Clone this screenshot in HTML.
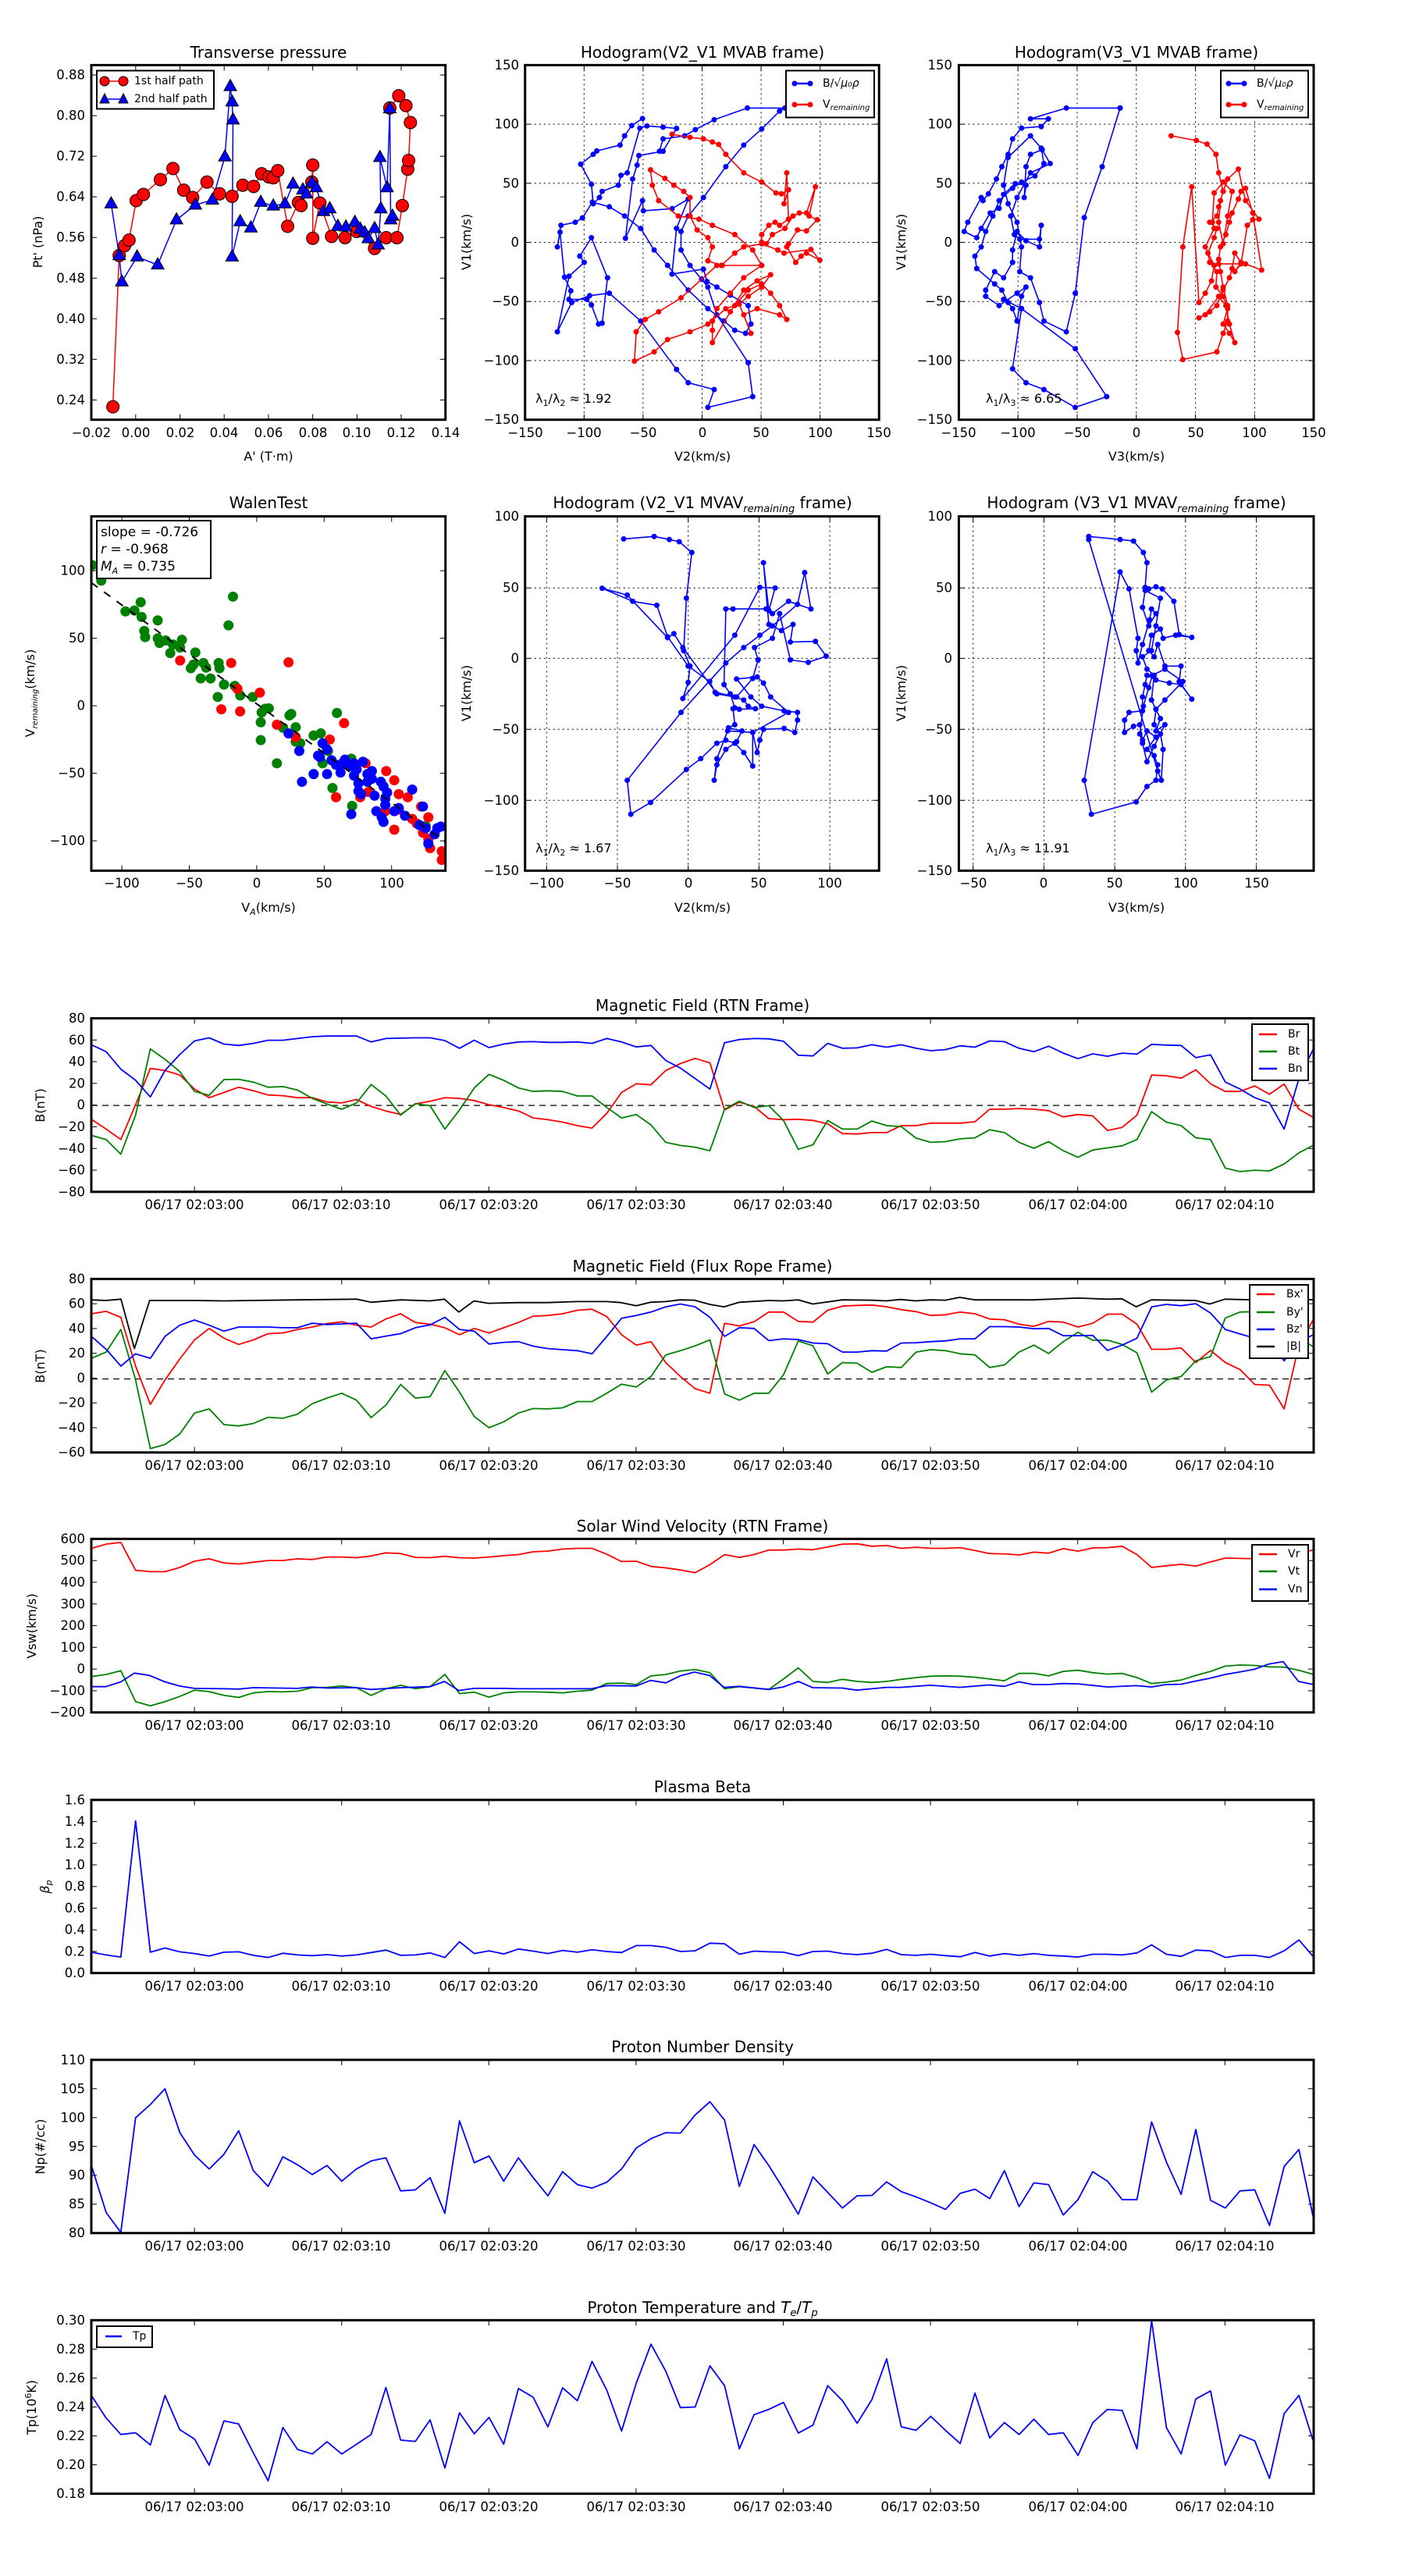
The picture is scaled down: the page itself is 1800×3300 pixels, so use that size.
<!DOCTYPE html>
<html><head><meta charset="utf-8"><style>
body{margin:0;background:#fff}
svg{display:block}
text{font-family:"DejaVu Sans","Liberation Sans",sans-serif;fill:#000}
.t{font-size:20px;text-anchor:middle}
.yl{font-size:16.5px;text-anchor:end;dominant-baseline:central}
.xl{font-size:16.5px;text-anchor:middle}
.al{font-size:16px;text-anchor:middle}
.lg{font-size:14px;dominant-baseline:central}
</style></head><body>
<svg id="s" width="1800" height="3300" xmlns="http://www.w3.org/2000/svg">
<defs>
<clipPath id="cA"><rect x="117" y="83" width="454" height="455"/></clipPath>
<clipPath id="cB"><rect x="673" y="83" width="453" height="455"/></clipPath>
<clipPath id="cC"><rect x="1228" y="83" width="455" height="455"/></clipPath>
<clipPath id="cD"><rect x="117" y="661" width="454" height="454"/></clipPath>
<clipPath id="cE"><rect x="673" y="661" width="453" height="454"/></clipPath>
<clipPath id="cF"><rect x="1228" y="661" width="455" height="454"/></clipPath>
<clipPath id="cT"><rect x="117" y="0" width="1566" height="3300"/></clipPath>
</defs>
<g id="g"></g>
<!-- Titles -->
<text class="t" x="344" y="74">Transverse pressure</text>
<text class="t" x="900" y="74">Hodogram(V2_V1 MVAB frame)</text>
<text class="t" x="1456" y="74">Hodogram(V3_V1 MVAB frame)</text>
<text class="t" x="344" y="651">WalenTest</text>
<text class="t" x="900" y="651">Hodogram (V2_V1 MVAV<tspan font-size="13" font-style="italic" dy="5">remaining</tspan><tspan dy="-5"> frame)</tspan></text>
<text class="t" x="1456" y="651">Hodogram (V3_V1 MVAV<tspan font-size="13" font-style="italic" dy="5">remaining</tspan><tspan dy="-5"> frame)</tspan></text>
<text class="t" x="900" y="1295">Magnetic Field (RTN Frame)</text>
<text class="t" x="900" y="1629">Magnetic Field (Flux Rope Frame)</text>
<text class="t" x="900" y="1962">Solar Wind Velocity (RTN Frame)</text>
<text class="t" x="900" y="2296">Plasma Beta</text>
<text class="t" x="900" y="2629">Proton Number Density</text>
<text class="t" x="900" y="2963">Proton Temperature and <tspan font-style="italic">T</tspan><tspan font-size="13" font-style="italic" dy="4">e</tspan><tspan dy="-4">/</tspan><tspan font-style="italic">T</tspan><tspan font-size="13" font-style="italic" dy="4">p</tspan></text>
<!-- Row1 axis labels -->
<text class="al" x="344" y="590">A' (T·m)</text>
<text class="al" x="900" y="590">V2(km/s)</text>
<text class="al" x="1456" y="590">V3(km/s)</text>
<text class="al" transform="translate(54,310) rotate(-90)">Pt' (nPa)</text>
<text class="al" transform="translate(603,310) rotate(-90)">V1(km/s)</text>
<text class="al" transform="translate(1160,310) rotate(-90)">V1(km/s)</text>
<text class="al" x="344" y="1168">V<tspan font-size="11" font-style="italic" dy="4">A</tspan><tspan dy="-4">(km/s)</tspan></text>
<text class="al" x="900" y="1168">V2(km/s)</text>
<text class="al" x="1456" y="1168">V3(km/s)</text>
<text class="al" transform="translate(44,888) rotate(-90)">V<tspan font-size="10" font-style="italic" dy="4">remaining</tspan><tspan dy="-4">(km/s)</tspan></text>
<text class="al" transform="translate(603,888) rotate(-90)">V1(km/s)</text>
<text class="al" transform="translate(1160,888) rotate(-90)">V1(km/s)</text>
<!-- Row1 ticks A -->
<text class="yl" x="109" y="96.1">0.88</text><text class="yl" x="109" y="148.1">0.80</text><text class="yl" x="109" y="200.2">0.72</text><text class="yl" x="109" y="252.2">0.64</text><text class="yl" x="109" y="304.2">0.56</text><text class="yl" x="109" y="356.3">0.48</text><text class="yl" x="109" y="408.3">0.40</text><text class="yl" x="109" y="460.3">0.32</text><text class="yl" x="109" y="512.3">0.24</text>
<text class="xl" x="117" y="560">−0.02</text><text class="xl" x="174" y="560">0.00</text><text class="xl" x="231" y="560">0.02</text><text class="xl" x="287" y="560">0.04</text><text class="xl" x="344" y="560">0.06</text><text class="xl" x="401" y="560">0.08</text><text class="xl" x="457" y="560">0.10</text><text class="xl" x="514" y="560">0.12</text><text class="xl" x="571" y="560">0.14</text>
<!-- B -->
<text class="yl" x="665" y="83.4">150</text><text class="yl" x="665" y="159.1">100</text><text class="yl" x="665" y="234.8">50</text><text class="yl" x="665" y="310.5">0</text><text class="yl" x="665" y="386.2">−50</text><text class="yl" x="665" y="461.9">−100</text><text class="yl" x="665" y="537.6">−150</text>
<text class="xl" x="673" y="560">−150</text><text class="xl" x="748" y="560">−100</text><text class="xl" x="824" y="560">−50</text><text class="xl" x="900" y="560">0</text><text class="xl" x="975" y="560">50</text><text class="xl" x="1051" y="560">100</text><text class="xl" x="1126" y="560">150</text>
<!-- C -->
<text class="yl" x="1220" y="83.4">150</text><text class="yl" x="1220" y="159.1">100</text><text class="yl" x="1220" y="234.8">50</text><text class="yl" x="1220" y="310.5">0</text><text class="yl" x="1220" y="386.2">−50</text><text class="yl" x="1220" y="461.9">−100</text><text class="yl" x="1220" y="537.6">−150</text>
<text class="xl" x="1228" y="560">−150</text><text class="xl" x="1304" y="560">−100</text><text class="xl" x="1380" y="560">−50</text><text class="xl" x="1456" y="560">0</text><text class="xl" x="1532" y="560">50</text><text class="xl" x="1607" y="560">100</text><text class="xl" x="1683" y="560">150</text>
<!-- D Walen -->
<text class="yl" x="109" y="731.1">100</text><text class="yl" x="109" y="817.6">50</text><text class="yl" x="109" y="904.1">0</text><text class="yl" x="109" y="990.6">−50</text><text class="yl" x="109" y="1077.1">−100</text>
<text class="xl" x="156" y="1137">−100</text><text class="xl" x="242.5" y="1137">−50</text><text class="xl" x="329" y="1137">0</text><text class="xl" x="415" y="1137">50</text><text class="xl" x="502" y="1137">100</text>
<!-- E -->
<text class="yl" x="665" y="661.5">100</text><text class="yl" x="665" y="753.2">50</text><text class="yl" x="665" y="843.4">0</text><text class="yl" x="665" y="934.3">−50</text><text class="yl" x="665" y="1025.3">−100</text><text class="yl" x="665" y="1115.4">−150</text>
<text class="xl" x="700" y="1137">−100</text><text class="xl" x="791" y="1137">−50</text><text class="xl" x="882" y="1137">0</text><text class="xl" x="972" y="1137">50</text><text class="xl" x="1063" y="1137">100</text>
<!-- F -->
<text class="yl" x="1220" y="661.5">100</text><text class="yl" x="1220" y="753.2">50</text><text class="yl" x="1220" y="843.4">0</text><text class="yl" x="1220" y="934.3">−50</text><text class="yl" x="1220" y="1025.3">−100</text><text class="yl" x="1220" y="1115.4">−150</text>
<text class="xl" x="1247" y="1137">−50</text><text class="xl" x="1337" y="1137">0</text><text class="xl" x="1428" y="1137">50</text><text class="xl" x="1519" y="1137">100</text><text class="xl" x="1610" y="1137">150</text>
<!-- lambda annotations -->
<text x="686" y="516" font-size="16">λ<tspan font-size="11" dy="4">1</tspan><tspan dy="-4">/λ</tspan><tspan font-size="11" dy="4">2</tspan><tspan dy="-4"> ≈ 1.92</tspan></text>
<text x="1263" y="516" font-size="16">λ<tspan font-size="11" dy="4">1</tspan><tspan dy="-4">/λ</tspan><tspan font-size="11" dy="4">3</tspan><tspan dy="-4"> ≈ 6.65</tspan></text>
<text x="686" y="1092" font-size="16">λ<tspan font-size="11" dy="4">1</tspan><tspan dy="-4">/λ</tspan><tspan font-size="11" dy="4">2</tspan><tspan dy="-4"> ≈ 1.67</tspan></text>
<text x="1263" y="1092" font-size="16">λ<tspan font-size="11" dy="4">1</tspan><tspan dy="-4">/λ</tspan><tspan font-size="11" dy="4">3</tspan><tspan dy="-4"> ≈ 11.91</tspan></text>
<!-- Walen text box -->
<rect x="124" y="667" width="146" height="74" fill="#fff" stroke="#000" stroke-width="2"/>
<text x="129" y="687" font-size="17">slope = -0.726</text>
<text x="129" y="709" font-size="17"><tspan font-style="italic">r</tspan> = -0.968</text>
<text x="129" y="731" font-size="17"><tspan font-style="italic">M</tspan><tspan font-size="11" font-style="italic" dy="4">A</tspan><tspan dy="-4"> = 0.735</tspan></text>
<!-- Time series y labels -->
<text class="al" transform="translate(57,1416) rotate(-90)">B(nT)</text>
<text class="al" transform="translate(57,1750) rotate(-90)">B(nT)</text>
<text class="al" transform="translate(46,2083) rotate(-90)">Vsw(km/s)</text>
<text class="al" transform="translate(63,2417) rotate(-90)" font-style="italic">β<tspan font-size="11" dy="3">p</tspan></text>
<text class="al" transform="translate(57,2750) rotate(-90)">Np(#/cc)</text>
<text class="al" transform="translate(46,3084) rotate(-90)">Tp(10<tspan font-size="11" dy="-6">6</tspan><tspan dy="6">K)</tspan></text>
<!-- Mag ticks -->
<text class="yl" x="109" y="1304.5">80</text><text class="yl" x="109" y="1332.3">60</text><text class="yl" x="109" y="1360.1">40</text><text class="yl" x="109" y="1387.9">20</text><text class="yl" x="109" y="1415.7">0</text><text class="yl" x="109" y="1443.5">−20</text><text class="yl" x="109" y="1471.3">−40</text><text class="yl" x="109" y="1499.1">−60</text><text class="yl" x="109" y="1526.8">−80</text>
<text class="yl" x="109" y="1638.4">80</text><text class="yl" x="109" y="1670.2">60</text><text class="yl" x="109" y="1701.9">40</text><text class="yl" x="109" y="1733.7">20</text><text class="yl" x="109" y="1765.4">0</text><text class="yl" x="109" y="1797.2">−20</text><text class="yl" x="109" y="1829">−40</text><text class="yl" x="109" y="1860.7">−60</text>
<text class="yl" x="109" y="1971.4">600</text><text class="yl" x="109" y="1999.2">500</text><text class="yl" x="109" y="2027">400</text><text class="yl" x="109" y="2054.8">300</text><text class="yl" x="109" y="2082.6">200</text><text class="yl" x="109" y="2110.3">100</text><text class="yl" x="109" y="2138.1">0</text><text class="yl" x="109" y="2165.9">−100</text><text class="yl" x="109" y="2193.7">−200</text>
<text class="yl" x="109" y="2305.8">1.6</text><text class="yl" x="109" y="2333.5">1.4</text><text class="yl" x="109" y="2361.3">1.2</text><text class="yl" x="109" y="2389">1.0</text><text class="yl" x="109" y="2416.7">0.8</text><text class="yl" x="109" y="2444.5">0.6</text><text class="yl" x="109" y="2472.2">0.4</text><text class="yl" x="109" y="2500">0.2</text><text class="yl" x="109" y="2527.6">0.0</text>
<text class="yl" x="109" y="2638.8">110</text><text class="yl" x="109" y="2675.8">105</text><text class="yl" x="109" y="2712.8">100</text><text class="yl" x="109" y="2749.8">95</text><text class="yl" x="109" y="2786.7">90</text><text class="yl" x="109" y="2823.7">85</text><text class="yl" x="109" y="2860.7">80</text>
<text class="yl" x="109" y="2972.3">0.30</text><text class="yl" x="109" y="3009.4">0.28</text><text class="yl" x="109" y="3046.4">0.26</text><text class="yl" x="109" y="3083.5">0.24</text><text class="yl" x="109" y="3120.5">0.22</text><text class="yl" x="109" y="3157.6">0.20</text><text class="yl" x="109" y="3194.6">0.18</text>
<!-- time labels -->
<g class="xl">
<text class="xl" x="249" y="1549">06/17 02:03:00</text><text class="xl" x="437" y="1549">06/17 02:03:10</text><text class="xl" x="626" y="1549">06/17 02:03:20</text><text class="xl" x="815" y="1549">06/17 02:03:30</text><text class="xl" x="1003" y="1549">06/17 02:03:40</text><text class="xl" x="1192" y="1549">06/17 02:03:50</text><text class="xl" x="1381" y="1549">06/17 02:04:00</text><text class="xl" x="1569" y="1549">06/17 02:04:10</text>
<text class="xl" x="249" y="1883">06/17 02:03:00</text><text class="xl" x="437" y="1883">06/17 02:03:10</text><text class="xl" x="626" y="1883">06/17 02:03:20</text><text class="xl" x="815" y="1883">06/17 02:03:30</text><text class="xl" x="1003" y="1883">06/17 02:03:40</text><text class="xl" x="1192" y="1883">06/17 02:03:50</text><text class="xl" x="1381" y="1883">06/17 02:04:00</text><text class="xl" x="1569" y="1883">06/17 02:04:10</text>
<text class="xl" x="249" y="2216">06/17 02:03:00</text><text class="xl" x="437" y="2216">06/17 02:03:10</text><text class="xl" x="626" y="2216">06/17 02:03:20</text><text class="xl" x="815" y="2216">06/17 02:03:30</text><text class="xl" x="1003" y="2216">06/17 02:03:40</text><text class="xl" x="1192" y="2216">06/17 02:03:50</text><text class="xl" x="1381" y="2216">06/17 02:04:00</text><text class="xl" x="1569" y="2216">06/17 02:04:10</text>
<text class="xl" x="249" y="2550">06/17 02:03:00</text><text class="xl" x="437" y="2550">06/17 02:03:10</text><text class="xl" x="626" y="2550">06/17 02:03:20</text><text class="xl" x="815" y="2550">06/17 02:03:30</text><text class="xl" x="1003" y="2550">06/17 02:03:40</text><text class="xl" x="1192" y="2550">06/17 02:03:50</text><text class="xl" x="1381" y="2550">06/17 02:04:00</text><text class="xl" x="1569" y="2550">06/17 02:04:10</text>
<text class="xl" x="249" y="2883">06/17 02:03:00</text><text class="xl" x="437" y="2883">06/17 02:03:10</text><text class="xl" x="626" y="2883">06/17 02:03:20</text><text class="xl" x="815" y="2883">06/17 02:03:30</text><text class="xl" x="1003" y="2883">06/17 02:03:40</text><text class="xl" x="1192" y="2883">06/17 02:03:50</text><text class="xl" x="1381" y="2883">06/17 02:04:00</text><text class="xl" x="1569" y="2883">06/17 02:04:10</text>
<text class="xl" x="249" y="3217">06/17 02:03:00</text><text class="xl" x="437" y="3217">06/17 02:03:10</text><text class="xl" x="626" y="3217">06/17 02:03:20</text><text class="xl" x="815" y="3217">06/17 02:03:30</text><text class="xl" x="1003" y="3217">06/17 02:03:40</text><text class="xl" x="1192" y="3217">06/17 02:03:50</text><text class="xl" x="1381" y="3217">06/17 02:04:00</text><text class="xl" x="1569" y="3217">06/17 02:04:10</text>
</g>
<g id="lg"></g>
<!-- Legend texts -->
<text class="lg" x="172" y="104">1st half path</text>
<text class="lg" x="172" y="127">2nd half path</text>
<text class="lg" x="1054" y="107">B/√<tspan font-style="italic">μ₀ρ</tspan></text>
<text class="lg" x="1054" y="134">V<tspan font-size="10" font-style="italic" dy="4">remaining</tspan></text>
<text class="lg" x="1610" y="107">B/√<tspan font-style="italic">μ₀ρ</tspan></text>
<text class="lg" x="1610" y="134">V<tspan font-size="10" font-style="italic" dy="4">remaining</tspan></text>
<text class="lg" x="1650" y="1325">Br</text><text class="lg" x="1650" y="1347">Bt</text><text class="lg" x="1650" y="1369">Bn</text>
<text class="lg" x="1648" y="1658">Bx'</text><text class="lg" x="1648" y="1681">By'</text><text class="lg" x="1648" y="1703">Bz'</text><text class="lg" x="1648" y="1725">|B|</text>
<text class="lg" x="1650" y="1991">Vr</text><text class="lg" x="1650" y="2013">Vt</text><text class="lg" x="1650" y="2036">Vn</text>
<text class="lg" x="170" y="2993">Tp</text>
</svg>
<script>
const NS="http://www.w3.org/2000/svg",G=document.getElementById('g'),LG=document.getElementById('lg');
function el(t,a,p){const e=document.createElementNS(NS,t);for(const k in a)e.setAttribute(k,a[k]);(p||G).appendChild(e);return e;}
const Z={1:[0,.3954],3:[620,.3954],2:[1250,.4464],4:[1950,.4464],5:[2600,.4464]};
function cv(a,k){const r=[];for(let i=0;i<a.length;i+=2)r.push([a[i]*1.148,Z[k][0]+a[i+1]*Z[k][1]]);return r;}
function ys(a,k){const r=[];const n=a.length;for(let i=0;i<n;i++)r.push([(102+i*1364/(n-1))*1.148,Z[k][0]+a[i]*Z[k][1]]);return r;}
function line(pts,c,w,clip,dash){const a={points:pts.map(p=>p[0].toFixed(1)+','+p[1].toFixed(1)).join(' '),fill:'none',stroke:c,'stroke-width':w,'stroke-linejoin':'round'};if(clip)a['clip-path']='url(#'+clip+')';if(dash)a['stroke-dasharray']=dash;el('polyline',a);}
function dots(pts,c,r,clip,st){const g=el('g',clip?{'clip-path':'url(#'+clip+')'}:{});pts.forEach(p=>el('circle',{cx:p[0],cy:p[1],r:r,fill:c,stroke:st||c,'stroke-width':st?1:0},g));}
function tris(pts,c,s,clip){const g=el('g',{'clip-path':'url(#'+clip+')'});pts.forEach(p=>el('polygon',{points:`${p[0]},${p[1]-s} ${p[0]-s*.9},${p[1]+s*.6} ${p[0]+s*.9},${p[1]+s*.6}`,fill:c,stroke:'#000','stroke-width':1},g));}
function axes(x0,y0,x1,y1,xt,yt,grid){
 if(grid){xt.forEach(x=>{if(x>x0+2&&x<x1-2)el('line',{x1:x,y1:y0,x2:x,y2:y1,stroke:'#000','stroke-width':1,'stroke-dasharray':'2,4'})});
 yt.forEach(y=>{if(y>y0+2&&y<y1-2)el('line',{x1:x0,y1:y,x2:x1,y2:y,stroke:'#000','stroke-width':1,'stroke-dasharray':'2,4'})});}
 xt.forEach(x=>{el('line',{x1:x,y1:y1,x2:x,y2:y1-7,stroke:'#000','stroke-width':1});el('line',{x1:x,y1:y0,x2:x,y2:y0+7,stroke:'#000','stroke-width':1});});
 yt.forEach(y=>{el('line',{x1:x0,y1:y,x2:x0+7,y2:y,stroke:'#000','stroke-width':1});el('line',{x1:x1,y1:y,x2:x1-7,y2:y,stroke:'#000','stroke-width':1});});
}
function frame(x0,y0,x1,y1){el('rect',{x:x0,y:y0,width:x1-x0,height:y1-y0,fill:'none',stroke:'#000','stroke-width':3});}
function rng(a,s,n){const r=[];for(let i=0;i<n;i++)r.push(a+i*s);return r;}
// ---------- Row 1 ----------
axes(117,83.4,570.7,537.7,rng(117.1,56.7,9),rng(96.1,52.03,9));
axes(672.7,83.4,1126.2,537.7,rng(672.7,75.6,7),rng(83.4,75.7,7),1);
axes(1228.4,83.4,1683,537.7,rng(1228.4,75.8,7),rng(83.4,75.7,7),1);
const tRed=cv([126,1318,133,828,139,796,144,778,152,650,160,630,179,582,193,546,205,616,215,640,231,590,245,628,259,636,271,600,283,604,292,563,300,573,305,576,310,553,321,733,333,656,336,666,348,590,349,535,349,772,357,658,370,766,385,770,398,750,418,805,431,770,443,770,449,666,455,548,456,520,458,397,453,342,445,310,435,350],1);
const tBlue=cv([124,660,133,828,136,913,153,832,176,858,197,712,218,664,237,648,251,508,257,280,259,330,260,388,259,832,268,718,280,738,291,655,305,667,318,660,327,596,338,615,342,628,348,592,353,608,361,685,368,676,377,733,386,735,396,720,402,742,407,754,411,773,418,740,422,793,425,676,424,510,432,608,435,352,436,712,438,700],1);
line(tBlue,'#00f',1.5,'cA');line(tRed,'#f00',1.5,'cA');
dots(tRed,'#f00',8,'cA','#000');tris(tBlue,'#00f',9,'cA');
const hB=cv([717,384,705,407,697,440,692,470,666,489,662,500,648,532,660,597,662,660,669,640,672,620,690,600,693,568,700,560,714,415,722,408,740,412,755,416,740,490,713,504,711,535,706,580,698,772,717,650,718,683,750,676,768,645,755,740,750,888,785,872,789,912,800,930,815,956,835,990,838,1050,832,1080,820,1070,808,1040,790,1000,768,940,745,860,730,810,715,740,697,700,680,670,661,655,650,706,642,720,626,730,622,800,625,752,630,898,637,942,635,970,655,970,660,988,668,1050,672,1047,678,900,660,770,647,830,652,850,635,895,622,1075,638,980,658,958,680,950,715,1040,755,1197,768,1240,797,1262,790,1320,840,1285,835,1175,800,1020,790,930,783,905,770,860,760,810,760,750,768,700,785,640,810,540,830,470,850,418,870,360,876,350,834,350,797,388,776,420,764,440,740,450,736,490],1);
const hR=cv([750,435,770,445,785,450,795,460,802,468,810,500,830,560,850,590,866,625,872,628,880,615,875,660,878,560,880,710,870,730,865,720,858,730,850,760,850,785,855,790,862,760,876,740,885,700,892,690,900,690,910,605,903,700,912,712,900,748,890,745,880,790,878,800,888,850,894,830,900,820,915,843,905,808,875,820,868,810,850,790,830,800,820,820,805,860,790,845,795,800,790,770,778,745,770,700,770,640,763,620,752,600,742,578,726,550,728,600,735,650,757,700,780,710,795,730,820,760,840,810,850,860,830,900,815,950,800,1000,795,1040,795,1070,795,1110,815,1010,830,940,845,910,860,890,850,930,835,960,825,985,838,1080,830,1020,845,1000,870,1020,878,1035,870,990,860,950,850,920,835,940,820,990,810,1000,790,1050,770,1075,745,1100,730,1140,708,1170,710,1075,720,1035,735,1010,760,965,800,860,806,860,850,860],1);
line(hB,'#00f',1.6,'cB');dots(hB,'#00f',3.5,'cB');line(hR,'#f00',1.6,'cB');dots(hR,'#f00',3.5,'cB');
const cB=cv([1250,350,1190,350,1150,385,1170,385,1162,410,1140,415,1130,450,1125,500,1118,540,1112,580,1103,628,1097,650,1095,640,1080,720,1076,750,1090,770,1095,740,1105,690,1115,675,1120,630,1133,595,1145,600,1143,640,1145,540,1150,500,1163,485,1172,530,1150,560,1135,640,1128,700,1132,760,1138,775,1160,775,1162,730,1160,800,1145,780,1135,750,1130,810,1130,850,1120,900,1110,880,1100,940,1100,960,1115,990,1135,950,1145,930,1140,960,1135,1040,1130,1000,1125,980,1118,940,1110,920,1090,870,1088,830,1095,800,1100,750,1108,700,1115,650,1130,610,1140,590,1155,570,1165,530,1162,480,1150,440,1125,510,1120,600,1125,660,1135,720,1140,800,1138,880,1150,900,1160,980,1165,1040,1190,1075,1200,950,1210,705,1230,540,1250,350],1);
const cB2=cv([1120,970,1140,1000,1130,1195,1145,1240,1165,1262,1200,1320,1235,1285,1200,1130,1140,1000],1);
const cR=cv([1307,440,1335,455,1347,467,1357,500,1360,560,1365,620,1360,670,1358,700,1350,720,1358,740,1355,770,1348,820,1350,850,1358,880,1357,930,1365,960,1370,1000,1365,1050,1372,1080,1378,1110,1372,1050,1368,990,1360,960,1345,1020,1338,1030,1350,1010,1358,990,1365,940,1372,900,1375,870,1378,820,1385,850,1378,880,1385,855,1392,730,1398,712,1405,710,1390,650,1382,548,1370,580,1365,620,1362,650,1360,720,1365,790,1370,700,1375,620,1365,590,1355,625,1353,720,1355,740,1345,800,1355,860,1352,910,1345,950,1338,980,1330,605,1320,800,1314,1077,1320,1165,1358,1140,1365,1080,1370,1040,1370,990,1365,930,1362,880,1360,840,1362,800,1368,760,1372,720,1375,690,1382,645,1385,620,1390,610,1398,690,1408,875,1390,855,1360,855],1);
line(cB,'#00f',1.6,'cC');line(cB2,'#00f',1.6,'cC');dots(cB,'#00f',3.5,'cC');dots(cB2,'#00f',3.5,'cC');line(cR,'#f00',1.6,'cC');dots(cR,'#f00',3.5,'cC');
frame(117,83.4,570.7,537.7);frame(672.7,83.4,1126.2,537.7);frame(1228.4,83.4,1683,537.7);
// ---------- Row 2 ----------
axes(117,661.5,570.7,1115.4,rng(156.1,86.4,5),rng(731.1,86.5,5));
axes(672.7,661.5,1126.2,1115.4,rng(700.3,90.7,5),[661.5,753.2,843.4,934.3,1025.3,1115.4],1);
axes(1228.4,661.5,1683,1115.4,rng(1246.7,90.7,5),[661.5,753.2,843.4,934.3,1025.3,1115.4],1);
const wG=cv([103,263,113,313,140,413,150,410,157,383,158,431,176,442,161,476,162,496,176,500,178,515,185,507,193,520,203,505,201,530,190,548,218,546,213,597,216,585,227,580,230,595,244,580,245,597,260,365,255,458,224,630,235,630,250,650,262,654,268,685,243,690,282,690,292,740,296,728,300,727,325,745,323,750,291,772,291,830,330,788,316,790,330,835,335,840,350,815,358,808,366,865,376,742,392,890,360,905,309,905,350,940,371,985,393,1043,475,1108],3);
const wR=cv([201,572,258,580,322,578,290,676,265,664,247,730,268,737,384,775,309,780,330,820,368,828,408,905,431,930,440,960,375,1015,402,1015,411,998,445,1005,455,1015,470,1045,478,1080,440,1120,465,1100,472,1130,478,1150,480,1180,493,1190,493,1218,460,1085,430,1060,445,1055],3);
const wB=cv([322,808,334,865,337,965,360,840,357,885,365,860,355,880,370,895,375,910,382,905,385,893,390,915,398,925,405,900,410,940,395,945,400,970,415,955,425,965,428,980,432,1000,418,1010,430,1040,445,1050,440,1060,452,1075,460,990,472,1045,468,1105,475,1115,485,1135,488,1115,492,1110,478,1165,392,1070,426,1080,428,1095,400,995,430,1020,420,1060,410,965,380,935,365,940,350,940,395,905,415,930,403,1005],3);
dots(wG,'#008000',6.5,'cD');dots(wR,'#f00',6.5,'cD');dots(wB,'#00f',6.5,'cD');
line(cv([102,320,497,1160],3),'#000',2,'cD','10,10');
const eB=cv([696,178,730,170,747,180,758,187,772,222,766,370,763,540,770,590,768,643,762,695,820,490,848,335,865,337,858,410,852,255,858,455,872,475,885,455,882,512,910,510,922,558,902,578,882,570,870,420,862,500,842,530,846,570,840,630,822,690,798,675,792,640,768,590,745,495,733,393,706,380,672,338,700,360,745,498,752,485,762,530,800,680,820,690,830,700,835,720,843,728,825,730,818,728,820,780,813,790,828,800,822,835,810,860,800,910,797,960,800,890,812,800,840,805,845,870,848,830,852,795,875,792,887,805,890,765,890,740,875,735,850,720,838,690,822,632,845,625,852,645,860,690,880,740,840,805,840,914,830,870,820,840,810,830,800,840,782,890,766,925,726,1032,704,1070,700,960,760,740,810,580,830,530,848,490,862,460,890,390,898,287,905,405,880,380,862,420,855,405,818,405,810,405,808,650,815,680,820,725],3);
line(eB,'#00f',1.6,'cE');dots(eB,'#00f',3.5,'cE');
const fB=cv([1215,170,1250,180,1265,185,1276,222,1280,255,1278,335,1282,340,1290,333,1297,340,1310,380,1316,488,1330,497,1312,490,1298,500,1295,470,1285,490,1282,540,1288,560,1292,520,1300,590,1318,590,1316,640,1330,697,1318,650,1305,645,1290,635,1280,620,1278,650,1275,690,1275,735,1260,740,1255,765,1255,805,1265,785,1272,780,1275,830,1280,800,1290,820,1280,860,1288,880,1292,910,1290,960,1280,980,1268,1030,1218,1070,1210,960,1250,285,1260,340,1270,500,1268,540,1270,580,1275,520,1283,440,1285,405,1290,420,1282,460,1275,400,1278,345,1295,370,1290,460,1285,540,1275,560,1280,600,1288,620,1285,700,1290,730,1295,760,1290,800,1300,780,1288,850,1280,900,1275,840,1272,810,1276,720,1282,660,1286,620,1300,600,1320,640,1300,700,1290,730,1288,780,1295,810,1298,860,1296,960,1292,930,1215,180],3);
line(fB,'#00f',1.6,'cF');dots(fB,'#00f',3.5,'cF');
frame(117,661.5,570.7,1115.4);frame(672.7,661.5,1126.2,1115.4);frame(1228.4,661.5,1683,1115.4);
// ---------- Time series ----------
const TX=rng(249.1,188.6,8);
function panel(y0,y1,yt){axes(117,y0,1683,y1,TX,yt);}
panel(1304.5,1526.8,rng(1304.5,27.79,9));
el('line',{x1:117,y1:1416.1,x2:1683,y2:1416.1,stroke:'#000','stroke-width':1.2,'stroke-dasharray':'8,6'});
line(ys([412,440,470,370,266,272,285,325,350,335,320,330,342,344,350,350,362,365,355,375,388,398,368,360,350,352,358,370,378,388,408,413,420,430,437,395,335,310,313,272,252,237,250,385,363,375,410,413,412,415,425,453,454,450,450,430,430,423,423,423,419,383,383,381,383,387,405,398,402,444,435,400,285,287,294,270,310,332,332,316,340,311,383,407],2),'#f00',1.8,'cT');
line(ys([458,470,512,400,210,240,275,332,343,298,297,305,320,318,328,352,368,383,365,312,345,400,367,373,440,385,322,283,300,322,332,330,332,345,345,378,408,398,428,478,487,492,502,383,360,378,373,415,498,485,415,440,440,417,430,433,466,478,476,468,465,442,450,478,495,476,502,521,500,494,488,470,390,420,430,465,470,552,562,558,560,540,508,486],2),'#008000',1.8,'cT');
line(ys([198,218,268,300,348,272,226,187,178,196,200,194,185,185,180,175,173,173,173,190,180,179,178,178,186,208,185,206,196,190,189,191,191,190,194,180,190,204,200,243,265,295,325,192,183,180,181,188,228,230,194,208,207,198,205,198,208,215,212,201,205,187,189,208,218,202,222,238,224,231,222,225,197,199,200,235,227,305,325,350,365,440,295,208],2),'#00f',1.8,'cT');
frame(117,1304.5,1683,1526.8);
panel(1638.4,1860.7,rng(1638.4,31.76,8));
el('line',{x1:117,y1:1766.5,x2:1683,y2:1766.5,stroke:'#000','stroke-width':1.2,'stroke-dasharray':'8,6'});
line(ys([970,963,980,1120,1230,1160,1100,1045,1012,1040,1058,1045,1027,1025,1015,1008,998,993,1003,1008,985,970,995,1000,1010,1030,1012,1025,1010,995,977,975,970,960,957,978,1030,1060,1050,1110,1150,1185,1198,997,1005,993,965,965,992,994,960,948,946,945,950,958,964,975,973,965,970,985,987,1000,1006,992,994,1008,997,971,971,1000,1072,1072,1068,1110,1075,1110,1130,1173,1175,1243,1060,985],2),'#f00',1.8,'cT');
line(ys([1098,1080,1015,1160,1357,1345,1315,1255,1243,1288,1292,1285,1267,1270,1258,1228,1212,1198,1218,1268,1232,1173,1212,1208,1133,1195,1265,1297,1280,1255,1242,1243,1240,1222,1222,1198,1172,1180,1150,1088,1076,1062,1045,1200,1218,1198,1198,1145,1048,1062,1143,1110,1112,1138,1122,1124,1080,1073,1076,1085,1088,1124,1117,1080,1060,1084,1050,1023,1046,1046,1058,1082,1195,1160,1150,1105,1093,982,965,964,995,1022,1040,1065],2),'#008000',1.8,'cT');
line(ys([1035,1072,1120,1085,1098,1035,1003,988,1003,1020,1008,1008,1008,1010,1010,997,1001,999,997,1042,1034,1027,1010,1002,980,1015,1020,1057,1052,1050,1063,1070,1073,1076,1085,1035,983,975,965,950,942,950,980,1035,1010,1012,1047,1042,1044,1054,1056,1080,1080,1076,1077,1054,1053,1050,1048,1042,1042,1007,1007,1008,1013,1012,1033,1033,1032,1075,1060,1040,950,943,947,941,968,1015,1028,1040,1050,1105,1050,1030],2),'#00f',1.8,'cT');
line(cv([102,930,118,932,135,928,150,1070,167,932,184,932,217,932,250,933,332,930,398,928,414,937,447,930,480,933,496,928,512,965,529,933,545,940,578,938,611,938,644,935,677,935,693,938,710,947,726,937,743,935,759,930,775,931,792,943,808,950,825,937,858,932,874,933,891,930,907,942,940,930,973,931,989,933,1005,929,1022,933,1038,930,1055,931,1071,923,1088,930,1153,930,1203,925,1236,928,1252,927,1268,950,1285,930,1334,932,1350,942,1367,928,1400,930,1432,928,1449,928,1466,930],2),'#000',1.8,'cT');
frame(117,1638.4,1683,1860.7);
panel(1971.4,2193.7,rng(1971.4,27.79,9));
line(ys([75,63,58,138,142,142,130,112,105,117,120,115,110,110,105,107,100,100,102,97,88,90,101,102,98,102,103,100,96,93,85,83,77,75,75,92,113,112,127,131,137,145,122,93,101,93,80,80,77,79,71,63,62,69,67,75,72,75,75,73,81,90,91,94,86,89,76,83,74,73,69,93,130,125,121,126,114,103,104,105,102,97,88,80],4),'#f00',1.8,'cT');
line(ys([443,437,426,515,527,515,500,482,486,497,503,490,486,487,485,475,474,470,475,497,478,468,478,472,437,492,488,502,490,487,487,488,490,485,482,463,462,466,441,437,427,423,432,478,472,476,480,450,418,457,460,451,457,460,457,451,446,442,441,442,445,450,455,434,434,441,428,425,432,436,434,446,463,459,453,440,428,413,410,411,415,416,425,437],4),'#008000',1.8,'cT');
line(cv([102,472,118,472,135,458,150,433,167,440,184,458,200,470,217,477,250,478,266,479,283,475,332,477,348,473,365,476,398,475,414,480,447,475,480,472,496,457,512,483,529,477,562,477,578,478,660,478,677,469,710,470,726,454,743,461,759,441,775,430,792,440,808,474,825,471,858,480,874,473,891,457,907,475,940,476,956,482,973,478,989,474,1005,474,1038,468,1071,474,1104,467,1121,471,1137,458,1153,466,1170,466,1186,463,1203,464,1236,473,1268,469,1285,473,1301,466,1318,465,1334,456,1350,448,1367,437,1383,430,1400,422,1416,407,1432,400,1449,457,1466,466],4),'#00f',1.8,'cT');
frame(117,1971.4,1683,2193.7);
panel(2305.8,2527.6,rng(2305.8,27.73,9));
line(ys([1234,1242,1248,857,1234,1222,1233,1238,1245,1234,1233,1243,1249,1237,1242,1244,1241,1245,1242,1235,1228,1243,1242,1236,1249,1204,1238,1230,1239,1225,1231,1238,1229,1234,1227,1232,1235,1215,1215,1220,1232,1230,1208,1210,1240,1231,1233,1234,1244,1232,1231,1238,1241,1237,1226,1241,1243,1240,1244,1247,1235,1245,1238,1243,1238,1243,1245,1248,1240,1240,1242,1236,1213,1240,1246,1228,1230,1249,1243,1243,1249,1230,1199,1248],4),'#00f',1.8,'cT');
frame(117,2305.8,1683,2527.6);
panel(2638.8,2860.7,rng(2638.8,36.98,7));
line(ys([390,525,582,253,215,170,295,360,400,358,290,405,450,365,388,416,390,435,400,377,368,463,460,425,527,262,382,363,435,368,425,477,408,445,455,438,400,340,313,296,297,245,207,260,450,330,390,458,530,423,467,512,477,476,437,465,480,497,516,470,458,485,405,508,440,445,532,488,408,435,488,488,265,380,473,287,490,512,463,460,562,393,344,545],5),'#00f',1.8,'cT');
frame(117,2638.8,1683,2860.7);
panel(2972.3,3194.6,rng(2972.3,37.05,7));
line(ys([1050,1115,1162,1157,1192,1050,1148,1175,1250,1123,1132,1215,1295,1142,1205,1218,1183,1218,1190,1162,1027,1178,1182,1120,1258,1100,1160,1113,1190,1030,1055,1140,1028,1065,952,1035,1152,1015,903,980,1085,1083,965,1022,1203,1105,1090,1070,1158,1135,1022,1065,1130,1062,945,1140,1150,1110,1150,1188,1043,1172,1128,1162,1118,1162,1157,1222,1128,1090,1093,1203,835,1142,1218,1060,1037,1250,1163,1180,1288,1102,1050,1185],5),'#00f',1.8,'cT');
frame(117,2972.3,1683,3194.6);
// ---------- Legends ----------
function box(x,y,w,h){el('rect',{x:x,y:y,width:w,height:h,fill:'#fff',stroke:'#000','stroke-width':2},LG);}
function ll(x1,x2,y,c,w){el('line',{x1:x1,y1:y,x2:x2,y2:y,stroke:c,'stroke-width':w||2.5},LG);}
box(124,90.5,150,49);ll(130,162,104,'#f00',1.5);ll(130,162,127,'#00f',1.5);
[[134,104],[158,104]].forEach(p=>el('circle',{cx:p[0],cy:p[1],r:6,fill:'#f00',stroke:'#000'},LG));
[[134,127],[158,127]].forEach(p=>el('polygon',{points:`${p[0]},${p[1]-7} ${p[0]-6},${p[1]+5} ${p[0]+6},${p[1]+5}`,fill:'#00f',stroke:'#000'},LG));
box(1007,90.5,113,60);ll(1016,1040,107,'#00f');ll(1016,1040,134,'#f00');
[[1018,107],[1038,107]].forEach(p=>el('circle',{cx:p[0],cy:p[1],r:3.5,fill:'#00f'},LG));
[[1018,134],[1038,134]].forEach(p=>el('circle',{cx:p[0],cy:p[1],r:3.5,fill:'#f00'},LG));
box(1564,90.5,112,60);ll(1572,1596,107,'#00f');ll(1572,1596,134,'#f00');
[[1574,107],[1594,107]].forEach(p=>el('circle',{cx:p[0],cy:p[1],r:3.5,fill:'#00f'},LG));
[[1574,134],[1594,134]].forEach(p=>el('circle',{cx:p[0],cy:p[1],r:3.5,fill:'#f00'},LG));
box(1604,1312,72,72);ll(1613,1636,1325,'#f00');ll(1613,1636,1347,'#008000');ll(1613,1636,1369,'#00f');
box(1601,1646,75,94);ll(1610,1633,1658,'#f00');ll(1610,1633,1681,'#008000');ll(1610,1633,1703,'#00f');ll(1610,1633,1725,'#000');
box(1604,1979,72,72);ll(1613,1636,1991,'#f00');ll(1613,1636,2013,'#008000');ll(1613,1636,2036,'#00f');
box(124,2980,71,27);ll(135,156,2993,'#00f');
// move legend group after text? keep text on top
const s=document.getElementById('s');s.insertBefore(LG,s.querySelector('.lg'));
</script>
</body></html>
